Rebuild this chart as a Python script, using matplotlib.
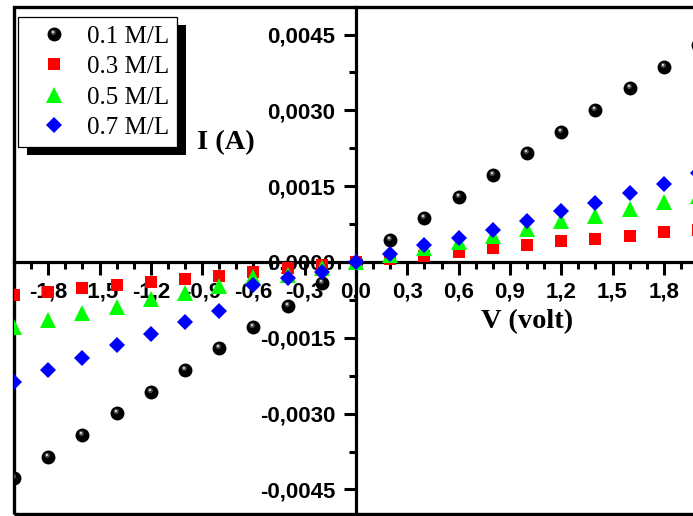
import numpy as np
import matplotlib
matplotlib.use("Agg")
import matplotlib.pyplot as plt
from matplotlib.path import Path
from matplotlib.patches import Rectangle
from matplotlib.ticker import MultipleLocator, FuncFormatter
from matplotlib.legend_handler import HandlerTuple

# Applied voltage (V)
voltage = [-2.0, -1.8, -1.6, -1.4, -1.2, -1.0, -0.8, -0.6, -0.4, -0.2, 0.0,
           0.2, 0.4, 0.6, 0.8, 1.0, 1.2, 1.4, 1.6, 1.8, 2.0]

# Measured current (A) for each concentration
i_01 = [-0.00428, -0.00385, -0.00342, -0.00299, -0.00257, -0.00214, -0.00171,
        -0.001285, -0.000862, -0.00041, 0.0,
        0.000426, 0.000862, 0.001284, 0.00172, 0.00215, 0.00258, 0.00301,
        0.00344, 0.00385, 0.00430]
i_03 = [-0.00066, -0.00059, -0.00052, -0.00045, -0.00039, -0.00033, -0.00027,
        -0.00020, -0.00011, -0.00005, 0.0,
        0.00005, 0.00012, 0.00019, 0.00027, 0.00033, 0.00041, 0.00046,
        0.00052, 0.00059, 0.00064]
i_05 = [-0.00128, -0.00114, -0.00101, -0.00089, -0.00074, -0.00061, -0.00048,
        -0.00029, -0.00025, -0.00012, 0.0,
        0.00013, 0.00027, 0.00039, 0.00051, 0.00066, 0.00081, 0.00091,
        0.00105, 0.00119, 0.00130]
i_07 = [-0.00237, -0.00213, -0.00190, -0.00165, -0.00142, -0.00119, -0.00096,
        -0.00045, -0.00031, -0.00019, 0.0,
        0.00015, 0.00033, 0.00048, 0.00064, 0.00082, 0.00100, 0.00117,
        0.00136, 0.00155, 0.00176]

labels = ["0.1 M/L", "0.3 M/L", "0.5 M/L", "0.7 M/L"]

W, H = 693, 516
fig = plt.figure(figsize=(W / 100, H / 100), dpi=100)
fig.patch.set_facecolor("white")

# axes box in pixel terms (right edge runs slightly past the canvas)
left_px, right_px, top_px, bottom_px = 14, 698, 6.5, 513.5
ax = fig.add_axes([left_px / W, (H - bottom_px) / H,
                   (right_px - left_px) / W, (bottom_px - top_px) / H])
ax.set_xlim(-2.0, 2.0)
ax.set_ylim(-0.004975, 0.005054)

# crossing axes through the origin
ax.spines["left"].set_position(("data", 0))
ax.spines["bottom"].set_position(("data", 0))
ax.spines["right"].set_visible(False)
ax.spines["top"].set_visible(False)
for s in ("left", "bottom"):
    ax.spines[s].set_linewidth(2.3)
    ax.spines[s].set_zorder(2.6)

# outer frame
ax.add_patch(Rectangle((0, 0), 1, 1, transform=ax.transAxes, fill=False,
                       lw=2.4, edgecolor="black", clip_on=False, zorder=2.6))

ax.xaxis.set_major_locator(MultipleLocator(0.3))
ax.xaxis.set_minor_locator(MultipleLocator(0.1))
ax.yaxis.set_major_locator(MultipleLocator(0.0015))
ax.yaxis.set_minor_locator(MultipleLocator(0.00075))
ax.xaxis.set_major_formatter(FuncFormatter(lambda v, p: f"{v:.1f}".replace("-0.0", "0.0").replace(".", ",")))
ax.yaxis.set_major_formatter(FuncFormatter(lambda v, p: ("0,0000" if abs(v) < 1e-9 else f"{v:.4f}".replace(".", ","))))

ax.tick_params(which="major", length=9, width=2.2, direction="out")
ax.tick_params(which="minor", length=5, width=2.2, direction="out")
ax.tick_params(axis="x", pad=5)
ax.tick_params(axis="y", pad=6)
for lab in ax.get_xticklabels() + ax.get_yticklabels():
    lab.set_fontfamily("Liberation Sans")
    lab.set_fontweight("bold")
    lab.set_fontsize(16)


def spot(cx, cy, r):
    """Off-centre highlight disc, expressed in units of the sphere radius."""
    circ = Path.circle((cx, cy), r)
    verts = np.vstack([[[-1.0, -1.0], [1.0, 1.0]], circ.vertices])
    codes = np.concatenate([[Path.MOVETO, Path.MOVETO], circ.codes])
    return Path(verts, codes)


ms_sphere = 10
h_black, = ax.plot(voltage, i_01, ls="none", marker="o", ms=ms_sphere,
                   mfc="black", mec="black", mew=0, zorder=3)
h_hl1, = ax.plot(voltage, i_01, ls="none", marker=spot(-0.18, 0.3, 0.38),
                 ms=ms_sphere, mfc="#4a4a4a", mew=0, zorder=3.01)
h_hl2, = ax.plot(voltage, i_01, ls="none", marker=spot(-0.22, 0.36, 0.17),
                 ms=ms_sphere, mfc="#d9d9d9", mew=0, zorder=3.02)
h_red, = ax.plot(voltage, i_03, ls="none", marker="s", ms=8.4,
                 mfc="#ff0000", mec="#ff0000", mew=0, zorder=3.1)
h_green, = ax.plot(voltage, i_05, ls="none", marker="^", ms=11.3,
                   mfc="#00ff00", mec="#00ff00", mew=0, zorder=3.2)
h_blue, = ax.plot(voltage, i_07, ls="none", marker="D", ms=8,
                  mfc="#0000ff", mec="#0000ff", mew=0, zorder=3.3)

leg = ax.legend([(h_black, h_hl1, h_hl2), h_red, h_green, h_blue], labels,
                handler_map={tuple: HandlerTuple(ndivide=1, pad=0)},
                loc="upper left", bbox_to_anchor=(18 / W, 1 - 17 / H),
                bbox_transform=fig.transFigure, borderaxespad=0,
                prop={"family": "Liberation Serif", "size": 18},
                frameon=True, fancybox=False, edgecolor="black",
                framealpha=1, borderpad=0.32, handlelength=2.2,
                handletextpad=0.25, labelspacing=0.32, numpoints=1)
leg.get_frame().set_linewidth(0.9)
leg.set_zorder(5)

fig.text(226 / W, 1 - 143 / H, "I (A)", ha="center", va="center",
         family="Liberation Serif", weight="bold", size=20.5)
fig.text(527 / W, 1 - 322 / H, "V (volt)", ha="center", va="center",
         family="Liberation Serif", weight="bold", size=20.5)

# solid drop shadow behind the legend box
fig.canvas.draw()
bb = leg.get_window_extent()
inv = ax.transAxes.inverted()
(x0, y0), (x1, y1) = inv.transform([[bb.x0 + 9, bb.y0 - 8], [bb.x1 + 9, bb.y1 - 8]])
ax.add_patch(Rectangle((x0, y0), x1 - x0, y1 - y0, transform=ax.transAxes,
                       facecolor="black", edgecolor="none", clip_on=False,
                       zorder=4.9))

fig.savefig("out.png", dpi=100)
